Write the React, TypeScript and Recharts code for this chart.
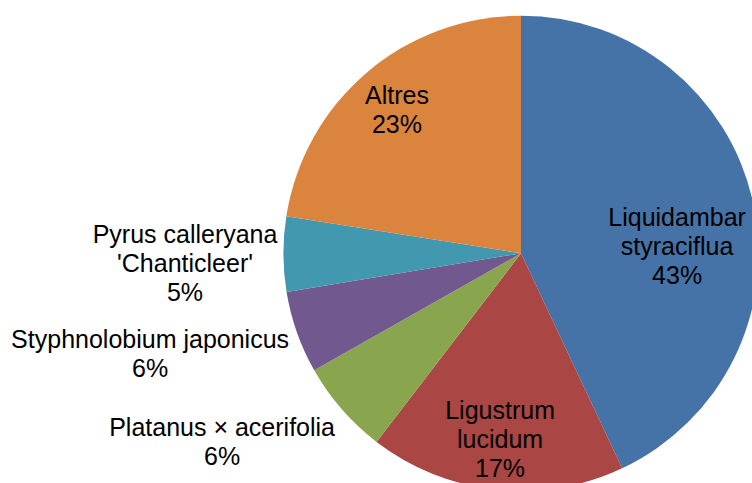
import React from 'react';
import { PieChart, Pie, Cell } from 'recharts';

const categories = [
  'Liquidambar\nstyraciflua',
  'Ligustrum\nlucidum',
  'Platanus × acerifolia',
  'Styphnolobium japonicus',
  "Pyrus calleryana\n'Chanticleer'",
  'Altres',
];
const values = [43.0, 17.4, 6.4, 5.6, 5.1, 22.5];
const percentLabels = ['43%', '17%', '6%', '6%', '5%', '23%'];
const colors = ['#4572A7', '#AA4643', '#89A54E', '#71588F', '#4198AF', '#DB843D'];

// label block centre, as a fraction of the outer radius from the pie centre
const labelOffsets = [
  [0.657, -0.031],
  [-0.088, 0.782],
  [-1.258, 0.79],
  [-1.561, 0.42],
  [-1.414, 0.041],
  [-0.522, -0.607],
];

const data = categories.map((name, i) => ({ name, value: values[i], pct: percentLabels[i] }));

const LINE_H = 29;

const renderLabel = (props: any) => {
  const { cx, cy, outerRadius, index } = props;
  const [fx, fy] = labelOffsets[index];
  const x = cx + fx * outerRadius;
  const y = cy + fy * outerRadius;
  const lines = [...categories[index].split('\n'), percentLabels[index]];
  const top = y - ((lines.length - 1) * LINE_H) / 2;
  return (
    <text
      key={`lbl-${index}`}
      x={x}
      y={top}
      textAnchor="middle"
      fill="#000"
      fontSize={25}
      fontFamily="'Liberation Sans', Arial, sans-serif"
    >
      {lines.map((l, j) => (
        <tspan key={j} x={x} y={top + j * LINE_H} dominantBaseline="central">
          {l}
        </tspan>
      ))}
    </text>
  );
};

export default function App() {
  return (
    <div style={{ position: 'absolute', left: 0, top: 0, width: 752, height: 483, background: '#fff' }}>
      <PieChart width={752} height={483} margin={{ top: 0, right: 0, bottom: 0, left: 0 }}>
        <Pie
          data={data}
          dataKey="value"
          nameKey="name"
          cx={521}
          cy={253.3}
          outerRadius={237.6}
          startAngle={90}
          endAngle={-270}
          stroke="none"
          label={renderLabel}
          labelLine={false}
          isAnimationActive={false}
        >
          {data.map((d, i) => (
            <Cell key={i} fill={colors[i]} />
          ))}
        </Pie>
      </PieChart>
    </div>
  );
}
